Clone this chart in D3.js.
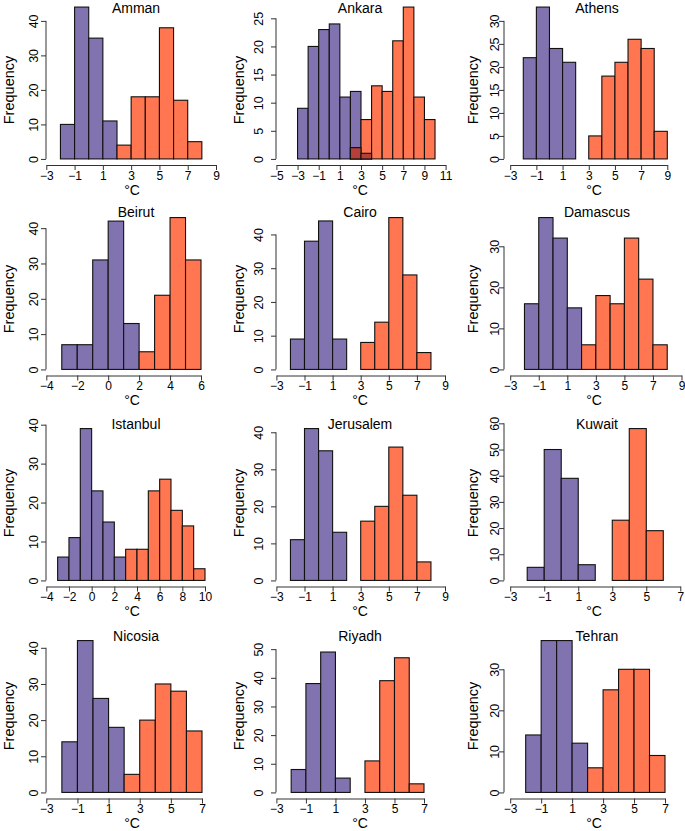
<!DOCTYPE html>
<html>
<head>
<meta charset="utf-8">
<script src="https://cdn.jsdelivr.net/npm/d3@7"></script>
<style>
  body { margin: 0; background: #fff; }
  text { font-family: "Liberation Sans", Arial, sans-serif; fill: #000; }
</style>
</head>
<body>
<div id="chart"></div>
<script>
// Data: 1 °C wide bins, counts
var cities = ["Amman", "Ankara", "Athens", "Beirut", "Cairo", "Damascus",
              "Istanbul", "Jerusalem", "Kuwait", "Nicosia", "Riyadh", "Tehran"];

var coldStart = [-2, -4, -2, -3, -2, -2, -3, -2, -2, -2, -2, -2];
var coldCounts = [
  [10, 44, 35, 11],
  [0, 9, 20, 23, 24, 11, 12, 1],
  [22, 33, 24, 21],
  [7, 7, 31, 42, 13],
  [9, 38, 44, 9],
  [16, 37, 32, 15],
  [6, 11, 39, 23, 15, 6],
  [11, 41, 35, 13],
  [5, 50, 39, 6],
  [14, 42, 26, 18],
  [8, 38, 49, 5],
  [14, 37, 37, 12]
];

var warmStart = [2, 2, 2, 2, 2, 2, 3, 2, 2, 2, 2, 2];
var warmCounts = [
  [4, 18, 18, 38, 17, 5],
  [2, 7, 13, 12, 21, 27, 11, 7],
  [0, 5, 18, 21, 26, 24, 6],
  [5, 21, 43, 31],
  [0, 8, 14, 45, 28, 5],
  [6, 18, 16, 32, 22, 6],
  [8, 8, 23, 26, 18, 14, 3],
  [0, 16, 20, 36, 23, 5],
  [0, 23, 58, 19],
  [5, 20, 30, 28, 17],
  [0, 11, 39, 47, 3],
  [6, 25, 30, 30, 9]
];

// axis settings
var xTickRange = [[-3, 9], [-5, 11], [-3, 9], [-4, 6], [-3, 9], [-3, 9],
                  [-4, 10], [-3, 9], [-3, 7], [-3, 7], [-3, 7], [-3, 7]];
var yTickMax = [40, 25, 30, 40, 40, 30, 40, 40, 60, 40, 50, 30];
var yTickStep = [10, 5, 5, 10, 10, 10, 10, 10, 10, 10, 10, 10];
var yLimMax = [44, 27, 33, 43, 45, 37, 39, 41, 58, 42, 53, 37];

// layout (pixels)
var rowTop = [1, 211.5, 422.5, 634.5],
    plotH = 164,
    titleY = [12.8, 217, 429, 640.7],
    freqY = [90, 299, 503, 716];
var colAxisX = [46, 276, 504],
    colTick0 = [46.3, 276.4, 510.2],
    colTitleX = [136, 360, 597],
    colXlabX = [132, 360, 594],
    colFreqX = [14, 244, 478],
    colYLabOff = [8, 13, 5];
var tickEnd = [216, 445.6, 667.3, 201, 445, 681.5, 205, 445, 680.3, 202, 424, 665];

var coldColor = "#8073b0",
    warmColor = "#ff7650",
    bothColor = "#b5403a";

var svg = d3.select("#chart").append("svg")
    .attr("width", 685)
    .attr("height", 831);

cities.forEach(function(city, i) {
  var r = Math.floor(i / 3), c = i % 3;
  var bottom = rowTop[r] + plotH;
  var M = yLimMax[i];

  var x = d3.scaleLinear().domain(xTickRange[i]).range([colTick0[c], tickEnd[i]]);
  var y = d3.scaleLinear().domain([-0.04 * M, 1.04 * M]).range([bottom, rowTop[r]]);

  var g = svg.append("g");

  var cold = coldCounts[i].map(function(v, k) { return {x0: coldStart[i] + k, n: v}; });
  var warm = warmCounts[i].map(function(v, k) { return {x0: warmStart[i] + k, n: v}; });

  function bars(data, fill) {
    g.selectAll(null)
      .data(data)
      .enter().append("rect")
        .attr("x", function(d) { return x(d.x0); })
        .attr("width", function(d) { return x(d.x0 + 1) - x(d.x0); })
        .attr("y", function(d) { return y(d.n); })
        .attr("height", function(d) { return y(0) - y(d.n); })
        .attr("fill", fill)
        .attr("stroke", "#111")
        .attr("stroke-width", 1.1);
  }
  bars(cold, coldColor);
  bars(warm, warmColor);

  // where the two histograms overlap
  var both = [];
  cold.forEach(function(d) {
    warm.forEach(function(e) {
      if (d.x0 === e.x0 && d.n > 0 && e.n > 0) both.push({x0: d.x0, n: Math.min(d.n, e.n)});
    });
  });
  bars(both, bothColor);

  // x axis
  var xticks = d3.range(xTickRange[i][0], xTickRange[i][1] + 1, 2);
  var xa = g.append("g")
    .attr("transform", "translate(0," + bottom + ")")
    .call(d3.axisBottom(x).tickValues(xticks).tickSize(5).tickSizeOuter(0));
  xa.selectAll("text")
    .attr("y", 14.5).attr("dy", null)
    .style("font-size", "12px");

  // y axis
  var yticks = d3.range(0, yTickMax[i] + 1, yTickStep[i]);
  var ya = g.append("g")
    .attr("transform", "translate(" + colAxisX[c] + ",0)")
    .call(d3.axisLeft(y).tickValues(yticks).tickSize(5).tickSizeOuter(0));
  ya.select(".domain").remove();
  ya.append("line")
    .attr("y1", y(0)).attr("y2", y(yTickMax[i]))
    .attr("stroke", "currentColor");
  ya.selectAll(".tick text")
    .attr("x", null).attr("dy", null)
    .attr("text-anchor", "middle")
    .attr("transform", "translate(" + (-colYLabOff[c]) + ",0) rotate(-90)")
    .style("font-size", "12.5px");

  g.selectAll(".domain, .tick line, line").attr("stroke", "#333");

  // labels
  g.append("text")
    .attr("x", colTitleX[c]).attr("y", titleY[r])
    .attr("text-anchor", "middle")
    .style("font-size", "14px")
    .text(city);

  g.append("text")
    .attr("x", colXlabX[c]).attr("y", bottom + 29.5)
    .attr("text-anchor", "middle")
    .style("font-size", "14px")
    .text("°C");

  g.append("text")
    .attr("transform", "translate(" + colFreqX[c] + "," + freqY[r] + ") rotate(-90)")
    .attr("text-anchor", "middle")
    .style("font-size", "14.5px")
    .text("Frequency");
});
</script>
</body>
</html>
